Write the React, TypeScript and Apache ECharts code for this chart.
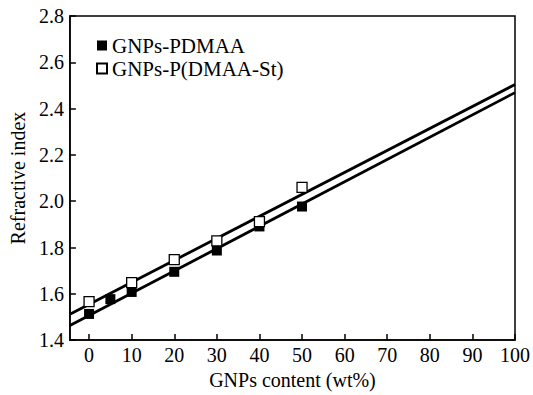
import React, { useEffect, useRef } from "react";
import * as echarts from "echarts";

const contentPDMAA = [0, 5, 10, 20, 30, 40, 50];
const riPDMAA = [1.513, 1.577, 1.608, 1.695, 1.787, 1.891, 1.977];
const contentPDMAASt = [0, 10, 20, 30, 40, 50];
const riPDMAASt = [1.566, 1.648, 1.748, 1.829, 1.912, 2.06];
const fitX = [-4.5, 100];
const fitPDMAA = [1.463, 2.469];
const fitPDMAASt = [1.512, 2.504];
const xTicks = [0, 10, 20, 30, 40, 50, 60, 70, 80, 90, 100];
const seriesNames = ["GNPs-PDMAA", "GNPs-P(DMAA-St)"];

const FONT = "serif";

export default function App() {
  const ref = useRef<HTMLDivElement>(null);
  useEffect(() => {
    if (!ref.current) return;
    const chart = echarts.init(ref.current, undefined, { renderer: "svg" });
    const pair = (xs: number[], ys: number[]) => xs.map((x, i) => [x, ys[i]]);
    chart.setOption({
      animation: false,
      backgroundColor: "#fff",
      textStyle: { fontFamily: FONT, color: "#000" },
      grid: {
        left: 69,
        right: 16,
        top: 16,
        bottom: 52,
        show: true,
        borderColor: "#000",
        borderWidth: 1.5,
        backgroundColor: "transparent",
      },
      legend: {
        orient: "vertical",
        left: 91,
        top: 30,
        itemWidth: 10,
        itemHeight: 10,
        itemGap: 2,
        icon: "rect",
        data: seriesNames,
        textStyle: { fontFamily: FONT, fontSize: 21, color: "#000" },
      },
      xAxis: {
        type: "value",
        min: -4.5,
        max: 100,
        name: "GNPs content (wt%)",
        nameLocation: "middle",
        nameGap: 27,
        nameTextStyle: { fontFamily: FONT, fontSize: 20, color: "#000" },
        splitLine: { show: false },
        axisLine: { onZero: false, lineStyle: { color: "#000", width: 1.5 } },
        axisTick: { inside: true, length: 6, customValues: xTicks, lineStyle: { color: "#000", width: 1.5 } },
        axisLabel: {
          customValues: xTicks,
          fontFamily: FONT,
          fontSize: 20,
          color: "#000",
          margin: 5,
        },
      },
      yAxis: {
        type: "value",
        min: 1.4,
        max: 2.8,
        interval: 0.2,
        name: "Refractive index",
        nameLocation: "middle",
        nameGap: 40,
        nameTextStyle: { fontFamily: FONT, fontSize: 20, color: "#000" },
        splitLine: { show: false },
        axisLine: { onZero: false, lineStyle: { color: "#000", width: 1.5 } },
        axisTick: { inside: true, length: 6, lineStyle: { color: "#000", width: 1.5 } },
        axisLabel: {
          fontFamily: FONT,
          fontSize: 20,
          color: "#000",
          margin: 6,
          formatter: (v: number) => v.toFixed(1),
        },
      },
      series: [
        {
          name: seriesNames[0] + " fit",
          type: "line",
          data: pair(fitX, fitPDMAA),
          showSymbol: false,
          clip: true,
          lineStyle: { color: "#000", width: 2.8 },
          silent: true,
        },
        {
          name: seriesNames[1] + " fit",
          type: "line",
          data: pair(fitX, fitPDMAASt),
          showSymbol: false,
          clip: true,
          lineStyle: { color: "#000", width: 2.8 },
          silent: true,
        },
        {
          name: seriesNames[0],
          type: "scatter",
          symbol: "rect",
          symbolSize: 10,
          data: pair(contentPDMAA, riPDMAA),
          itemStyle: { color: "#000", opacity: 1 },
          z: 5,
        },
        {
          name: seriesNames[1],
          type: "scatter",
          symbol: "rect",
          symbolSize: 10,
          data: pair(contentPDMAASt, riPDMAASt),
          itemStyle: { color: "#fff", borderColor: "#000", borderWidth: 1.3, opacity: 1 },
          z: 5,
        },
      ],
    });
    return () => chart.dispose();
  }, []);
  return <div ref={ref} style={{ width: 533, height: 395, position: "absolute", left: 0, top: 0 }} />;
}
